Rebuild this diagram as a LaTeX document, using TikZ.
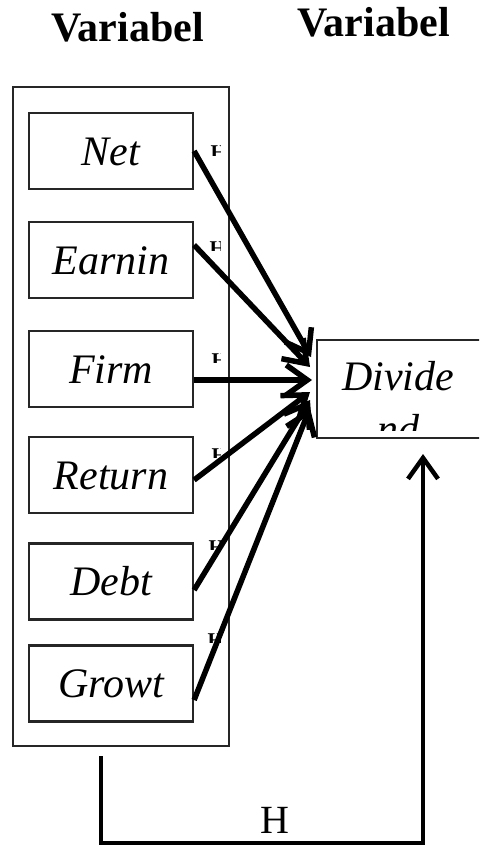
\documentclass[tikz,border=0pt]{standalone}
\usepackage{fontspec}
\setmainfont{Liberation Serif}
\usetikzlibrary{arrows.meta}
\begin{document}
\begin{tikzpicture}[x=1pt,y=-1pt,
  box/.style={draw=black!85, line width=2.2pt, minimum width=164pt, minimum height=76pt, inner sep=0pt,
    font=\fontsize{42}{48}\selectfont\itshape, text height=28pt, text depth=0pt},
  conn/.style={line width=5.5pt, -{Straight Barb[length=21pt,width=30pt]}},
  hmark/.style={font=\fontsize{21}{24}\selectfont\bfseries, inner sep=0pt, anchor=base west},
  title/.style={font=\fontsize{42}{48}\selectfont\bfseries, inner sep=0pt, anchor=base}]
\clip (0,0) rectangle (479,845);
\node[title] (t1) at (127.5,42) {Variabel};
\node[title] (t2) at (373.5,37) {Variabel};
\node[draw=black!85, line width=2.2pt, minimum width=216pt, minimum height=659pt, inner sep=0pt] (outer) at (121,416.5) {};
\node[box] (net) at (111,151) {Net};
\node[box] (earnin) at (111,260) {Earnin};
\node[box] (firm) at (111,369) {Firm};
\node[box] (return) at (111,475) {Return};
\node[box] (debt) at (111,581.5) {Debt};
\node[box] (growt) at (111,683.5) {Growt};
\node[box, minimum height=98pt] (div) at (399,389) {};
\begin{scope}
  \clip (317,340) rectangle (481,430);
  \node[font=\fontsize{42}{48}\selectfont\itshape, anchor=base, inner sep=0pt] (divt1) at (398,390) {Divide};
  \node[font=\fontsize{42}{48}\selectfont\itshape, anchor=base, inner sep=0pt] (divt2) at (398,443) {nd};
\end{scope}
\foreach \x/\y/\n in {211/146/1, 210/241/2, 212/353/3, 212/448/4, 209/540/5, 208/633/6}{
  \begin{scope}
    \clip (\x-2,\y-2) rectangle (220.5,\y+9.5);
    \node[hmark] (m\n) at (\x-0.5,\y+14) {H\n};
  \end{scope}
}
\coordinate (p1) at (311,357);
\coordinate (p2) at (310,367);
\coordinate (p3) at (312,380);
\coordinate (p4) at (310,392);
\coordinate (p5) at (310,400);
\coordinate (p6) at (310,408);
\draw[conn] (net.east) -- (p1);
\draw[conn] ([yshift=15pt]earnin.east) -- (p2);
\draw[conn] ([yshift=-11pt]firm.east) -- (p3);
\draw[conn] ([yshift=-5pt]return.east) -- (p4);
\draw[conn] ([yshift=-8.5pt]debt.east) -- (p5);
\draw[conn] ([yshift=-16.5pt]growt.east) -- (p6);
\coordinate (hs) at (101,756);
\coordinate (he) at (423,454);
\draw[conn, line width=4.5pt] (hs) -- ++(0,87) -| (he);
\node[font=\fontsize{40}{48}\selectfont, anchor=base, inner sep=0pt] (hl) at (275,833) {H};
\end{tikzpicture}
\end{document}
